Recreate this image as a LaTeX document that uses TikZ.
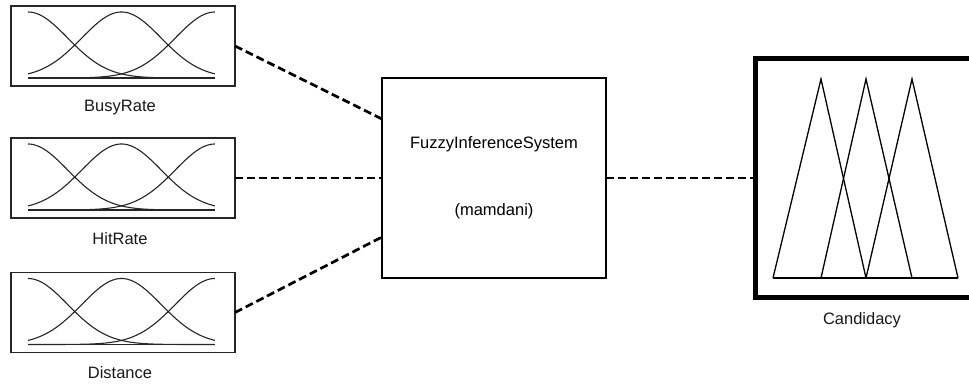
\documentclass[tikz,border=0pt]{standalone}
\usepackage{fontspec}
\setmainfont{Liberation Sans}
\usetikzlibrary{calc}
\begin{document}
\begin{tikzpicture}[x=1pt,y=-1pt,
  inbox/.style={draw=black!85, line width=1.3pt, minimum width=224pt, minimum height=80pt, inner sep=0pt, outer sep=0pt, anchor=north west},
  fisbox/.style={draw=black, line width=2.2pt, minimum width=224pt, minimum height=200pt, inner sep=0pt, outer sep=0pt, anchor=north west, align=center, font=\fontsize{16.5}{20}\selectfont},
  outbox/.style={draw=black, line width=5pt, minimum width=220pt, minimum height=239pt, inner sep=0pt, outer sep=0pt, anchor=north west},
  lbl/.style={font=\fontsize{16.5}{20}\selectfont, text=black!90, inner sep=0pt},
  conn/.style={line width=2.7pt, dash pattern=on 8pt off 4pt},
  mf/.style={line width=1.1pt, draw=black!85},
  tri/.style={line width=1.3pt, draw=black, line join=miter}]
\useasboundingbox[fill=white] (0,0) rectangle (969,383);
% input boxes
\node[inbox] (b1) at (11,6) {};
\node[inbox] (b2) at (11,138) {};
\node[inbox] (b3) at (11,272.5) {};
\foreach \b in {b1,b2,b3}{
  \begin{scope}[shift={(\b.north west)}]
    \draw[mf] (17,72) -- (204,72);
    \draw[mf] plot[domain=0:1,samples=80,smooth] ({17+187*\x},{72-66*exp(-((\x)^2)/0.09)});
    \draw[mf] plot[domain=0:1,samples=80,smooth] ({17+187*\x},{72-66*exp(-((\x-0.5)^2)/0.09)});
    \draw[mf] plot[domain=0:1,samples=80,smooth] ({17+187*\x},{72-66*exp(-((\x-1)^2)/0.09)});
  \end{scope}
}
\node[lbl] (l1) at ($(b1.south)+(-3,21.5)$) {BusyRate};
\node[lbl] (l2) at ($(b2.south)+(-3,20.5)$) {HitRate};
\node[lbl] (l3) at ($(b3.south)+(-3,20)$) {Distance};
% FIS
\node[fisbox] (fis) at (382,78) {FuzzyInferenceSystem\\[47pt](mamdani)};
% output
\node[outbox] (out) at (755,58.5) {};
\begin{scope}[shift={(out.north west)}]
  \draw[tri] (18,219.5) -- (66,20.5) -- (111,219.5);
  \draw[tri] (66,219.5) -- (111,20.5) -- (157,219.5);
  \draw[tri] (111,219.5) -- (157,20.5) -- (203,219.5);
  \draw[tri] (18,219.5) -- (203,219.5);
\end{scope}
\node[lbl] (l4) at ($(out.south)+(-3,23)$) {Candidacy};
% connectors
\draw[conn] (b1.east) -- ($(fis.north west)!0.205!(fis.south west)$);
\draw[conn] (b2.east) -- (fis.west);
\draw[conn] (b3.east) -- ($(fis.north west)!0.795!(fis.south west)$);
\draw[conn] (fis.east) -- (out.west);
\end{tikzpicture}
\end{document}
